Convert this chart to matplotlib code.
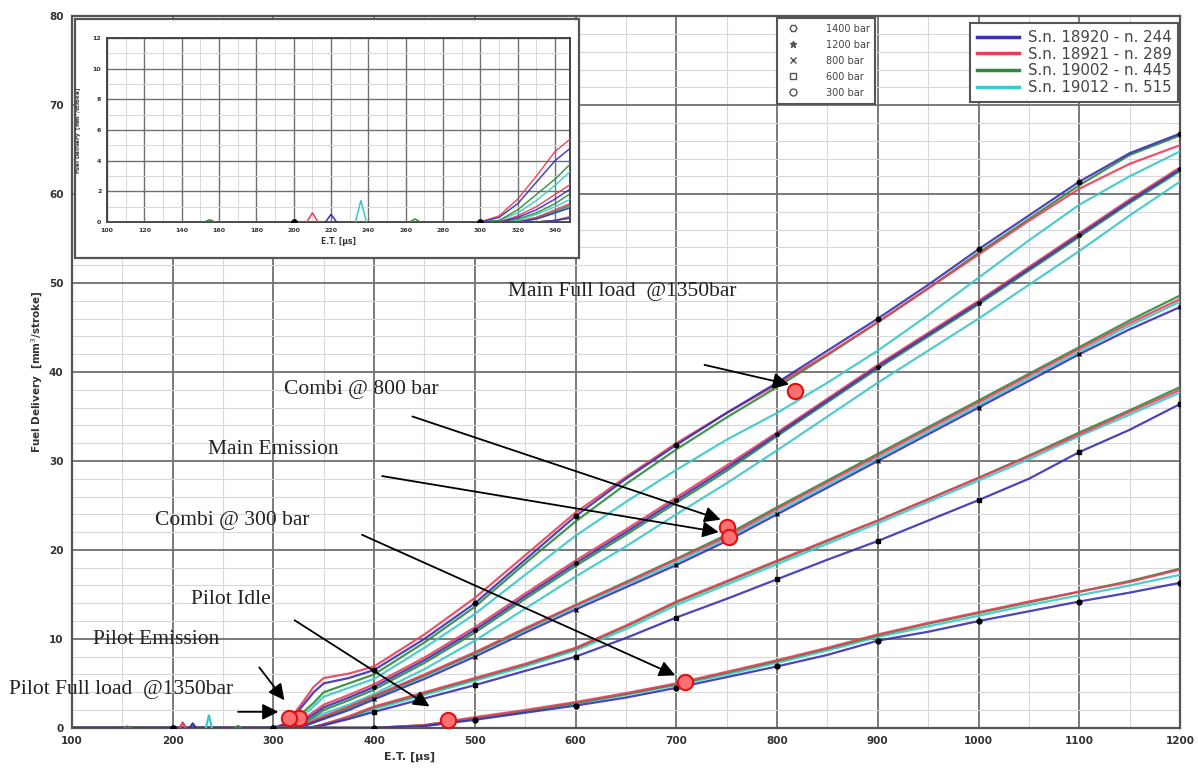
import matplotlib.pyplot as plt
from matplotlib.lines import Line2D
from matplotlib.patches import Rectangle

# energising time grid [us]
et = [100, 200, 300, 310, 320, 330, 340, 350, 375, 400, 450, 500, 550, 600, 650,
      700, 750, 800, 850, 900, 950, 1000, 1050, 1100, 1150, 1200]

# fuel delivery [mm3/stroke], one list per rail pressure and injector
p1400_244 = [0, 0, 0, 0.3, 1.2, 2.6, 4.0, 5.0, 5.6, 6.5, 10.0, 14.0, 18.9, 23.8, 28.0,
             31.8, 35.4, 38.8, 42.4, 46.0, 49.8, 53.8, 57.6, 61.4, 64.6, 66.8]
p1400_289 = [0, 0, 0, 0.4, 1.5, 3.0, 4.6, 5.6, 6.1, 6.9, 10.5, 14.6, 19.4, 24.2, 28.2,
             32.0, 35.4, 38.6, 42.0, 45.6, 49.4, 53.2, 57.0, 60.6, 63.4, 65.5]
p1400_445 = [0, 0, 0, 0.1, 0.8, 1.8, 2.8, 4.0, 5.0, 6.0, 9.6, 13.6, 18.5, 23.2, 27.4,
             31.3, 34.9, 38.3, 41.9, 45.6, 49.4, 53.4, 57.2, 61.0, 64.4, 66.6]
p1400_515 = [0, 0, 0, 0.1, 0.6, 1.4, 2.4, 3.5, 4.5, 5.5, 9.0, 12.8, 17.2, 21.6, 25.4,
             29.0, 32.4, 35.4, 38.8, 42.4, 46.4, 50.6, 54.8, 58.8, 62.0, 64.8]

p1200_244 = [0, 0, 0, 0, 0.3, 0.8, 1.5, 2.3, 3.4, 4.6, 7.6, 11.0, 14.8, 18.5, 22.0,
             25.6, 29.2, 33.0, 36.8, 40.6, 44.2, 47.8, 51.6, 55.4, 59.2, 62.8]
p1200_289 = [0, 0, 0, 0, 0.4, 1.0, 1.8, 2.6, 3.7, 4.9, 7.9, 11.3, 15.1, 18.8, 22.3,
             25.9, 29.5, 33.2, 37.0, 40.8, 44.4, 48.0, 51.8, 55.6, 59.4, 63.0]
p1200_445 = [0, 0, 0, 0, 0.2, 0.6, 1.2, 2.0, 3.1, 4.3, 7.3, 10.7, 14.5, 18.2, 21.7,
             25.3, 28.9, 32.8, 36.6, 40.4, 44.0, 47.6, 51.4, 55.2, 59.0, 62.6]
p1200_515 = [0, 0, 0, 0, 0.1, 0.5, 1.0, 1.6, 2.6, 3.8, 6.6, 9.8, 13.4, 17.0, 20.4,
             24.0, 27.5, 31.2, 35.0, 38.8, 42.4, 46.0, 49.8, 53.6, 57.6, 61.4]

p800_244 = [0, 0, 0, 0, 0, 0.2, 0.6, 1.0, 2.0, 3.2, 5.5, 8.0, 10.7, 13.3, 15.8,
            18.3, 21.0, 24.0, 27.0, 30.0, 33.0, 36.0, 39.0, 42.0, 44.8, 47.3]
p800_289 = [0, 0, 0, 0, 0, 0.3, 0.8, 1.3, 2.4, 3.6, 6.0, 8.5, 11.2, 13.8, 16.3,
            18.9, 21.5, 24.6, 27.6, 30.6, 33.6, 36.6, 39.6, 42.6, 45.5, 48.2]
p800_445 = [0, 0, 0, 0, 0, 0.3, 0.7, 1.2, 2.3, 3.5, 5.9, 8.4, 11.1, 13.8, 16.4,
            19.0, 21.7, 24.8, 27.8, 30.8, 33.8, 36.8, 39.8, 42.8, 45.8, 48.6]
p800_515 = [0, 0, 0, 0, 0, 0.2, 0.6, 1.1, 2.2, 3.4, 5.8, 8.3, 11.0, 13.6, 16.1,
            18.6, 21.3, 24.3, 27.3, 30.3, 33.3, 36.3, 39.3, 42.3, 45.2, 47.9]

p600_244 = [0, 0, 0, 0, 0, 0, 0.1, 0.3, 1.0, 1.8, 3.3, 4.8, 6.4, 8.0, 10.1,
            12.4, 14.5, 16.7, 18.9, 21.0, 23.3, 25.6, 28.0, 31.0, 33.5, 36.4]
p600_289 = [0, 0, 0, 0, 0, 0, 0.1, 0.4, 1.3, 2.4, 4.0, 5.6, 7.2, 9.0, 11.5,
            14.2, 16.5, 18.8, 21.1, 23.3, 25.7, 28.1, 30.5, 33.0, 35.5, 38.0]
p600_445 = [0, 0, 0, 0, 0, 0, 0.1, 0.4, 1.2, 2.3, 3.9, 5.5, 7.1, 8.9, 11.4,
            14.1, 16.4, 18.7, 21.0, 23.3, 25.7, 28.1, 30.6, 33.2, 35.7, 38.3]
p600_515 = [0, 0, 0, 0, 0, 0, 0.1, 0.3, 1.1, 2.1, 3.7, 5.3, 6.9, 8.7, 11.1,
            13.8, 16.1, 18.4, 20.7, 23.0, 25.4, 27.8, 30.2, 32.8, 35.2, 37.7]

p300_244 = [0, 0, 0, 0, 0, 0, 0, 0, 0, 0, 0.2, 0.9, 1.7, 2.5, 3.4,
            4.5, 5.7, 6.9, 8.2, 9.8, 10.8, 12.0, 13.1, 14.2, 15.2, 16.3]
p300_289 = [0, 0, 0, 0, 0, 0, 0, 0, 0, 0, 0.3, 1.2, 2.0, 2.9, 3.9,
            5.0, 6.3, 7.6, 9.0, 10.5, 11.8, 13.0, 14.2, 15.3, 16.4, 17.8]
p300_445 = [0, 0, 0, 0, 0, 0, 0, 0, 0, 0, 0.3, 1.1, 1.9, 2.8, 3.8,
            4.9, 6.2, 7.5, 8.9, 10.4, 11.7, 12.9, 14.1, 15.3, 16.5, 17.9]
p300_515 = [0, 0, 0, 0, 0, 0, 0, 0, 0, 0, 0.2, 1.0, 1.8, 2.7, 3.7,
            4.8, 6.0, 7.3, 8.7, 10.2, 11.4, 12.6, 13.8, 14.9, 16.0, 17.2]

# small spikes on the baseline (visible in the zoomed inset)
spike_et = [155, 210, 220, 236, 265]
spike_h = [0.15, 0.6, 0.5, 1.4, 0.2]
spike_sn = [2, 1, 0, 3, 2]

serials = ['S.n. 18920 - n. 244', 'S.n. 18921 - n. 289',
           'S.n. 19002 - n. 445', 'S.n. 19012 - n. 515']
sn_colors = ['#3a30b0', '#e8405a', '#2e8b3e', '#3cc8c8']

pressures = ['1400 bar', '1200 bar', '800 bar', '600 bar', '300 bar']
p_markers = ['H', '*', 'x', 's', 'o']
families = [
    [p1400_244, p1400_289, p1400_445, p1400_515],
    [p1200_244, p1200_289, p1200_445, p1200_515],
    [p800_244, p800_289, p800_445, p800_515],
    [p600_244, p600_289, p600_445, p600_515],
    [p300_244, p300_289, p300_445, p300_515],
]

# test points: label, ET, delivery, text position, arrow tail and head
pt_labels = ['Main Full load  @1350bar', 'Combi @ 800 bar', 'Main Emission',
             'Combi @ 300 bar', 'Pilot Idle', 'Pilot Emission',
             'Pilot Full load  @1350bar']
pt_et = [818, 750, 752, 709, 473, 325, 316]
pt_q = [37.9, 22.6, 21.4, 5.2, 0.9, 1.1, 1.1]
txt_xy = [(533, 49.0), (311, 38.0), (235, 31.3), (183, 23.3), (218, 14.4),
          (121, 9.9), (38, 4.3)]
tail_xy = [(728, 40.8), (438, 35.0), (408, 28.3), (388, 21.7), (321, 12.1),
           (286, 6.8), (265, 1.8)]
head_xy = [(812, 38.6), (744, 23.4), (742, 22.0), (699, 5.9), (455, 2.4),
           (311, 3.1), (305, 1.8)]

marker_idx = [i for i, v in enumerate(et) if v % 100 == 0 and v > 100]

fig = plt.figure(figsize=(11.98, 7.71), dpi=100)
ax = fig.add_axes([0.060, 0.056, 0.925, 0.923])


def draw_curves(a, lw):
    for f, fam in enumerate(families):
        for s in [3, 2, 1, 0]:
            a.plot(et, fam[s], color=sn_colors[s], lw=lw, alpha=0.9, zorder=3)
        a.plot(et, fam[0], ls='none', marker=p_markers[f], ms=3.5,
               color='black', mfc='black', markevery=marker_idx, zorder=4)
    for e, h, s in zip(spike_et, spike_h, spike_sn):
        a.plot([e - 3, e, e + 3], [0, h, 0], color=sn_colors[s], lw=lw, zorder=3)


draw_curves(ax, 1.6)

ax.set_xlim(100, 1200)
ax.set_ylim(0, 80)
ax.set_xticks(range(100, 1201, 100))
ax.set_yticks(range(0, 81, 10))
ax.set_xticks(range(150, 1200, 50), minor=True)
ax.set_yticks(range(0, 81, 2), minor=True)
ax.grid(which='major', color='#707070', lw=1.3)
ax.grid(which='minor', color='#d8d8d8', lw=0.8)
ax.set_axisbelow(True)
ax.tick_params(which='both', length=0, labelsize=7.5, colors='#333333', pad=6)
ax.tick_params(which='minor', labelleft=False, labelbottom=False)
for lab in ax.get_xticklabels() + ax.get_yticklabels():
    lab.set_fontweight('bold')
for sp in ax.spines.values():
    sp.set_color('#555555')
    sp.set_linewidth(1.6)
ax.set_ylabel('Fuel Delivery  [mm$^3$/stroke]', fontsize=7.5, fontweight='bold',
              color='#333333', labelpad=3)
fig.text(0.342, 0.018, 'E.T. [µs]', fontsize=8, fontweight='bold',
         color='#333333', ha='center', va='center')

# test points with arrows
for lab, x, y, t, tl, hd in zip(pt_labels, pt_et, pt_q, txt_xy, tail_xy, head_xy):
    ax.plot(x, y, 'o', ms=11, mfc='#ff7070', mec='#e01010', mew=1.5, zorder=6,
            clip_on=False)
    ax.text(t[0], t[1], lab, family='Liberation Serif', fontsize=15.5,
            color='#222222', va='center', ha='left', zorder=7, clip_on=False)
    ax.annotate('', xy=hd, xytext=tl, annotation_clip=False, zorder=7,
                arrowprops=dict(arrowstyle='-|>', color='black', lw=1.3,
                                mutation_scale=24, shrinkA=0, shrinkB=0))

# legends
line_handles = [Line2D([], [], color=c, lw=2.5) for c in sn_colors]
leg1 = ax.legend(line_handles, serials, loc='upper left',
                 bbox_to_anchor=(0.8097, 0.970), bbox_transform=fig.transFigure,
                 fancybox=False, edgecolor='#555555', fontsize=10.8,
                 handlelength=2.8, labelspacing=0.12, borderpad=0.45,
                 handletextpad=0.6, borderaxespad=0, framealpha=1)
leg1.get_frame().set_linewidth(1.5)
for t in leg1.get_texts():
    t.set_color('#444444')
ax.add_artist(leg1)

mk_handles = [Line2D([], [], ls='none', marker=m, ms=5, color='#555555',
                     mfc='#555555' if m == '*' else 'none')
              for m in p_markers]
leg2 = ax.legend(mk_handles, pressures, loc='upper left',
                 bbox_to_anchor=(0.6486, 0.977), bbox_transform=fig.transFigure,
                 fancybox=False, edgecolor='#555555', fontsize=7,
                 labelspacing=0.62, borderpad=0.6, handletextpad=2.4,
                 borderaxespad=0, framealpha=1)
leg2.get_frame().set_linewidth(1.5)
for t in leg2.get_texts():
    t.set_color('#444444')

# zoomed inset of the low-ET region
fig.add_artist(Rectangle((0.0626, 0.665), 0.421, 0.310, transform=fig.transFigure,
                         facecolor='white', edgecolor='#555555', lw=1.6, zorder=1))
ins = fig.add_axes([0.0893, 0.712, 0.3865, 0.2387], zorder=2)
draw_curves(ins, 1.1)
ins.set_xlim(100, 348)
ins.set_ylim(0, 12)
ins.set_xticks(range(100, 341, 20))
ins.set_yticks(range(0, 13, 2))
ins.set_xticks(range(110, 348, 20), minor=True)
ins.set_yticks(range(1, 12, 2), minor=True)
ins.grid(which='major', color='#707070', lw=1.0)
ins.grid(which='minor', color='#d8d8d8', lw=0.7)
ins.set_axisbelow(True)
ins.tick_params(which='both', length=0, labelsize=4.5, colors='#333333', pad=4)
for lab in ins.get_xticklabels() + ins.get_yticklabels():
    lab.set_fontweight('bold')
for sp in ins.spines.values():
    sp.set_color('#444444')
    sp.set_linewidth(1.4)
ins.set_ylabel('Fuel Delivery  [mm$^3$/stroke]', fontsize=4, fontweight='bold',
               color='#333333', labelpad=6)
ins.set_xlabel('E.T. [µs]', fontsize=5.5, fontweight='bold', color='#333333',
               labelpad=3)

fig.savefig('out.png', dpi=100)
